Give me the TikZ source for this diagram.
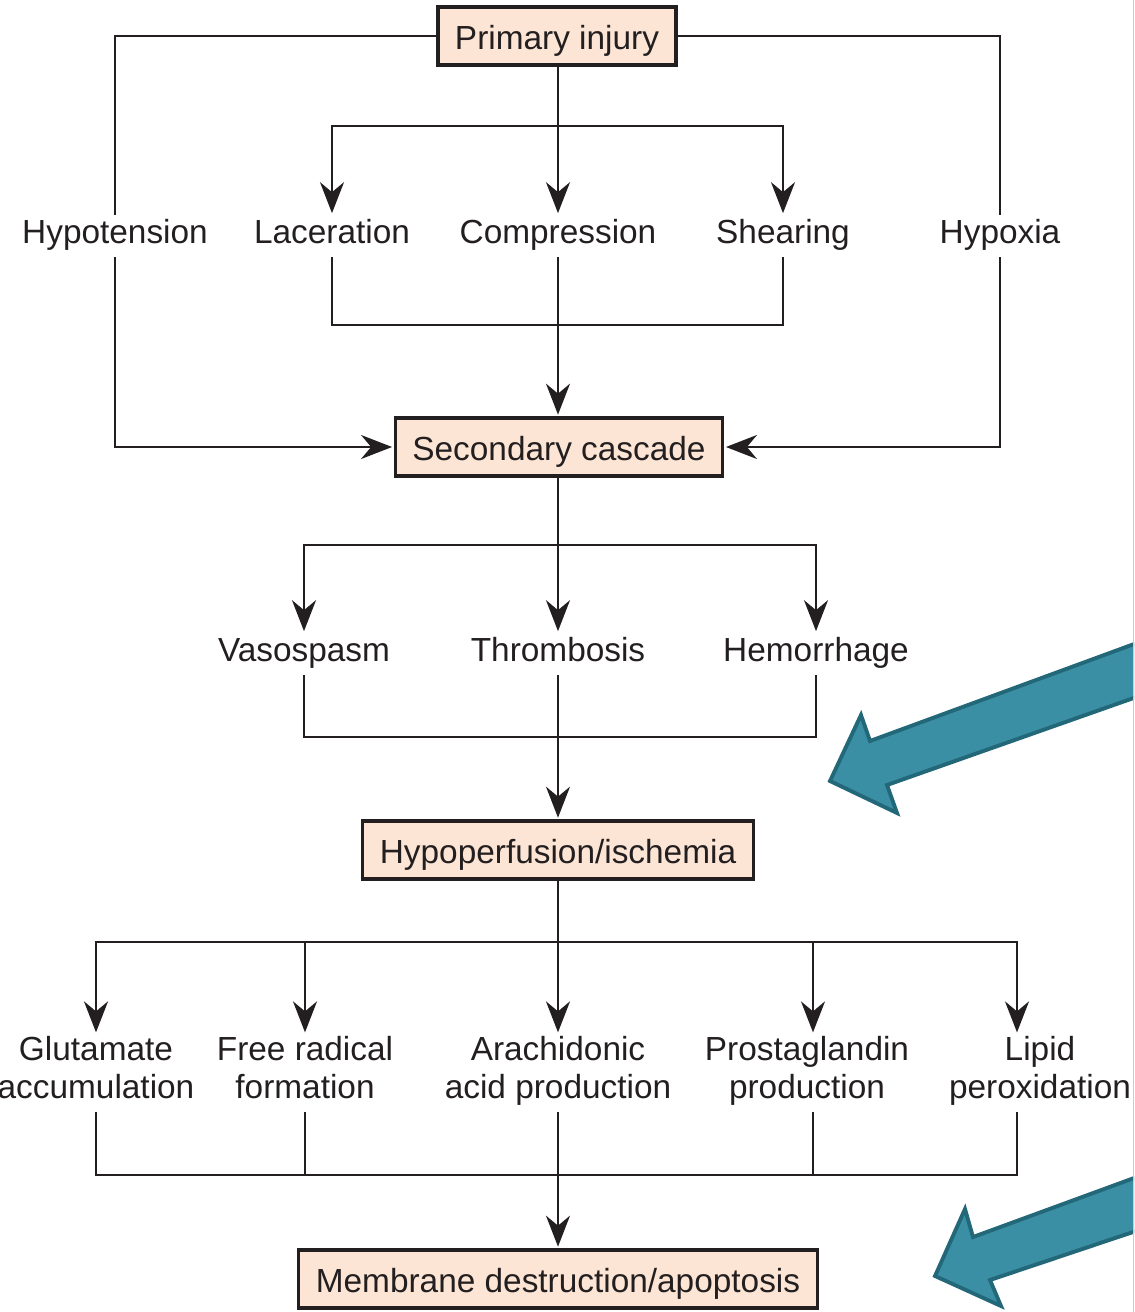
\documentclass[tikz,border=0pt]{standalone}
\usepackage{fontspec}
\setmainfont{Liberation Sans}
\usetikzlibrary{arrows.meta}
\definecolor{box_fill}{RGB}{252, 229, 212}
\definecolor{txt_dark}{RGB}{35, 31, 32}
\definecolor{teal_fill}{RGB}{58, 143, 165}
\definecolor{teal_line}{RGB}{35, 104, 120}
\definecolor{edge_yellow}{RGB}{240, 200, 120}
\tikzstyle{bx}=[rectangle,fill=box_fill,draw=txt_dark,text=txt_dark,
  line width=1.8pt,inner xsep=0.34cm,minimum height=1.16cm,
  text height=17.5pt,text depth=2.5pt]
\tikzstyle{lb}=[inner sep=1pt,align=center,text=txt_dark,
  execute at begin node=\strut,execute at end node=\strut]
\tikzstyle{ln}=[draw=txt_dark,line width=1.3pt]
\tikzstyle{ar}=[ln,-{Stealth[length=0.62cm,width=0.48cm,inset=0.2cm]},shorten >=1pt]
\tikzstyle{bigarrow}=[fill=teal_fill,draw=teal_line,line width=2.2pt,line join=miter]

\begin{document}
\begin{tikzpicture}[x=0.02cm, y=-0.02cm, font=\fontsize{19}{21.6}\selectfont]
    \useasboundingbox (0,0) rectangle (1134,1312);
    % boxes
    \node [style=bx] (pi) at (557, 36) {Primary injury};
    \node [style=bx] (sc) at (559, 447) {Secondary cascade};
    \node [style=bx] (hi) at (558, 850) {Hypoperfusion/ischemia};
    \node [style=bx] (md) at (558, 1279) {Membrane destruction/apoptosis};
    % first row
    \node [style=lb] (ht) at (115, 236) {Hypotension};
    \node [style=lb] (lc) at (332, 236) {Laceration};
    \node [style=lb] (cp) at (558, 236) {Compression};
    \node [style=lb] (sh) at (783, 236) {Shearing};
    \node [style=lb] (hx) at (1000, 236) {Hypoxia};
    % second row
    \node [style=lb] (vs) at (304, 654) {Vasospasm};
    \node [style=lb] (th) at (558, 654) {Thrombosis};
    \node [style=lb] (hm) at (816, 654) {Hemorrhage};
    % third row
    \node [style=lb] (gl) at (96, 1073) {Glutamate\\accumulation};
    \node [style=lb] (fr) at (305, 1073) {Free radical\\formation};
    \node [style=lb] (aa) at (558, 1073) {Arachidonic\\acid production};
    \node [style=lb] (pg) at (807, 1073) {Prostaglandin\\production};
    \node [style=lb] (lp) at (1040, 1073) {Lipid\\peroxidation};
    \coordinate (s1) at (558, 126);
    \coordinate (m1) at (558, 325);
    \coordinate (s2) at (558, 545);
    \coordinate (m2) at (558, 737);
    \coordinate (s3) at (558, 942);
    \coordinate (m3) at (558, 1175);
    % primary -> first row
    \draw [style=ln] (pi.west) -| (ht.north);
    \draw [style=ln] (pi.east) -| (hx.north);
    \draw [style=ln] (pi.south -| s1) to (s1);
    \draw [style=ar] (s1) -| (lc.north);
    \draw [style=ar] (s1) to (cp.north);
    \draw [style=ar] (s1) -| (sh.north);
    % first row -> secondary
    \draw [style=ar] (ht.south) |- (sc.west);
    \draw [style=ar] (hx.south) |- (sc.east);
    \draw [style=ln] (lc.south) |- (m1);
    \draw [style=ln] (sh.south) |- (m1);
    \draw [style=ar] (cp.south) to (sc.north -| cp);
    % secondary -> second row
    \draw [style=ln] (sc.south -| s2) to (s2);
    \draw [style=ar] (s2) -| (vs.north);
    \draw [style=ar] (s2) to (th.north);
    \draw [style=ar] (s2) -| (hm.north);
    \draw [style=ln] (vs.south) |- (m2);
    \draw [style=ln] (hm.south) |- (m2);
    \draw [style=ar] (th.south) to (hi.north);
    % hypoperfusion -> third row
    \draw [style=ln] (hi.south) to (s3);
    \draw [style=ar] (s3) -| (gl.north);
    \draw [style=ar] (s3) -| (fr.north);
    \draw [style=ar] (s3) to (aa.north);
    \draw [style=ar] (s3) -| ([xshift=0.12cm]pg.north);
    \draw [style=ar] (s3) -| ([xshift=-0.46cm]lp.north);
    \draw [style=ln] (gl.south) |- (m3);
    \draw [style=ln] (fr.south) |- (m3);
    \draw [style=ln] ([xshift=0.12cm]pg.south) |- (m3);
    \draw [style=ln] ([xshift=-0.46cm]lp.south) |- (m3);
    \draw [style=ar] (aa.south) to (md.north);
    % teal pointers
    \begin{scope}
    \clip (0,0) rectangle (1134,1312);
    \draw [style=bigarrow] (1145,640) -- (870,741) -- (861,715) -- (830,781)
      -- (897,813) -- (887,785) -- (1145,694) -- cycle;
    \draw [style=bigarrow] (1145,1174) -- (973,1237) -- (965,1209) -- (935,1276)
      -- (1001,1306) -- (990,1280) -- (1145,1228) -- cycle;
    \end{scope}
    \draw [draw=edge_yellow, line width=0.6pt] (1133.5,0) -- (1133.5,1312);
\end{tikzpicture}
\end{document}
